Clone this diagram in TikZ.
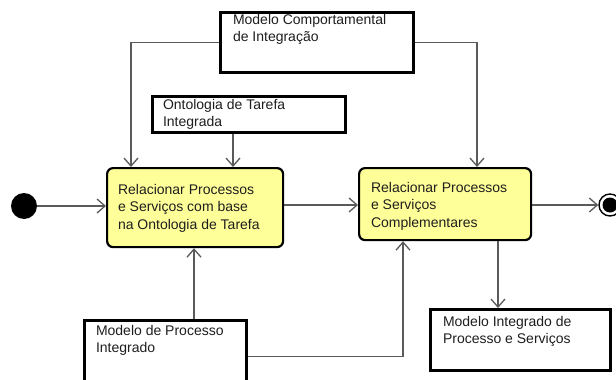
\documentclass[tikz,border=0pt]{standalone}
\usepackage{fontspec}
\setmainfont{Liberation Sans}
\usetikzlibrary{arrows.meta}
\definecolor{actfill}{RGB}{255,255,153}
\definecolor{linegray}{RGB}{90,90,90}
\definecolor{txtcol}{RGB}{30,30,30}
\begin{document}
\begin{tikzpicture}[x=1pt,y=-1pt,
  artifact/.style={draw=black, line width=2.6pt, fill=white, rectangle, anchor=north west},
  action/.style={draw=black, line width=2.2pt, fill=actfill, rounded corners=6pt, rectangle, anchor=north west},
  txt/.style={inner sep=0pt, outer sep=0pt, anchor=north west, align=left,
    font=\fontsize{14}{17.5}\selectfont, text=txtcol},
  flow/.style={draw=linegray, line width=1.3pt,
    -{Straight Barb[length=8pt,width=14pt,line width=1.3pt]}},
  link/.style={draw=linegray, line width=1.3pt}]
\useasboundingbox (0,0) rectangle (616,380);

% start and end states
\node[circle, fill=black, minimum size=26pt, inner sep=0pt] (start) at (24,206) {};
\node[circle, draw=black, line width=1.4pt, fill=white, minimum size=22pt, inner sep=0pt] (final) at (610,205) {};
\node[circle, fill=black, minimum size=15pt, inner sep=0pt] (finaldot) at (final.center) {};

% actions
\node[action, minimum width=176pt, minimum height=79pt] (act1) at (106,167) {};
\node[txt] (act1t) at (118,184) {Relacionar Processos\\e Serviços com base\\na Ontologia de Tarefa};
\node[action, minimum width=172pt, minimum height=72pt] (act2) at (358,167) {};
\node[txt] (act2t) at (371,182) {Relacionar Processos\\e Serviços\\Complementares};

% artifacts
\node[artifact, minimum width=193pt, minimum height=60pt] (mc) at (219,11) {};
\node[txt] (mct) at (233,14) {Modelo Comportamental\\de Integração};
\node[artifact, minimum width=193pt, minimum height=36pt] (ont) at (151,95) {};
\node[txt] (ontt) at (163,99) {Ontologia de Tarefa\\Integrada};
\node[artifact, minimum width=162pt, minimum height=62pt] (mp) at (83,319) {};
\node[txt] (mpt) at (96,325) {Modelo de Processo\\Integrado};
\node[artifact, minimum width=180pt, minimum height=61pt] (mi) at (429,308) {};
\node[txt] (mit) at (443,316) {Modelo Integrado de\\Processo e Serviços};

% control flow
\draw[flow] (start) -- (start -| act1.west);
\draw[flow] (act1.east |- 0,205) -- (act2.west |- 0,205);
\draw[flow] (act2.east |- final) -- (final.west);

% object flows
\draw[flow] (mc.west) -| ([xshift=25pt]act1.north west);
\draw[flow] (mc.east) -| ([xshift=119pt]act2.north west);
\draw[flow] ([xshift=82pt]ont.south west) -- ([xshift=127pt]act1.north west);
\draw[flow] ([xshift=111pt]mp.north west) -- ([xshift=88pt]act1.south west);
\draw[flow] ([yshift=-5pt]mp.east) -| ([xshift=45pt]act2.south west);
\draw[flow] ([xshift=140pt]act2.south west) -- ([xshift=69pt]mi.north west);
\end{tikzpicture}
\end{document}
